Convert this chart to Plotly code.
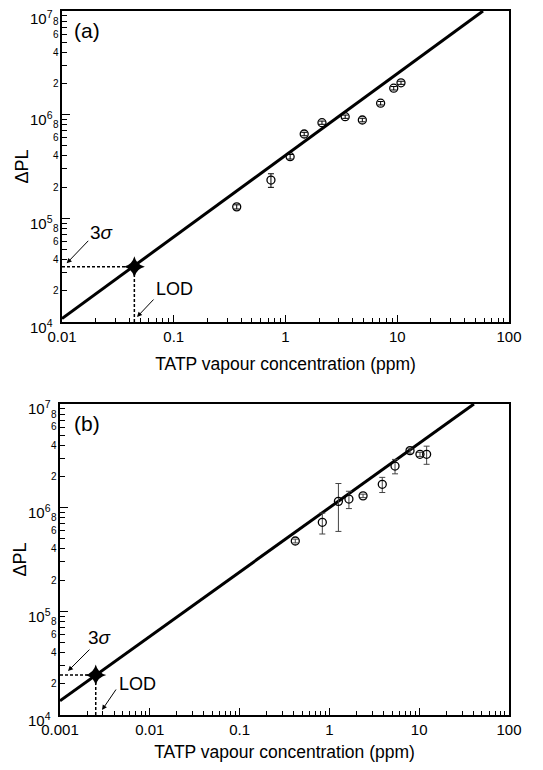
import math
import plotly.graph_objects as go

# ---------------- data ----------------
conc_a = [0.366, 0.741, 1.10, 1.47, 2.12, 3.42, 4.87, 7.1, 9.3, 10.8]
pl_a = [1.29e5, 2.34e5, 3.93e5, 6.51e5, 8.37e5, 9.56e5, 8.88e5, 1.29e6, 1.80e6, 2.03e6]
err_a = [0.06e5, 0.35e5, 0.2e5, 0.25e5, 0.3e5, 0.35e5, 0.35e5, 0.5e5, 0.7e5, 0.7e5]

conc_b = [0.417, 0.834, 1.26, 1.65, 2.37, 3.88, 5.38, 7.9, 10.2, 12.1]
pl_b = [4.77e5, 7.22e5, 1.15e6, 1.21e6, 1.30e6, 1.68e6, 2.52e6, 3.55e6, 3.27e6, 3.27e6]
err_b = [0.2e5, 1.65e5, 0.56e6, 0.23e6, 0.05e6, 0.28e6, 0.4e6, 0.2e6, 0.15e6, 0.65e6]

fit_x_a = [0.01, 58.5]
fit_y_a = [1.08e4, 1.0e7]
fit_x_b = [0.001, 40.7]
fit_y_b = [1.37e4, 1.0e7]

lod_a = (0.0444, 3.42e4)
lod_b = (0.0025, 2.43e4)

xr_a = (0.01, 100)
xr_b = (0.001, 100)
yr = (1e4, 1e7)

xtick_a = [0.01, 0.1, 1, 10, 100]
xtext_a = ["0.01", "0.1", "1", "10", "100"]
xtick_b = [0.001, 0.01, 0.1, 1, 10, 100]
xtext_b = ["0.001", "0.01", "0.1", "1", "10", "100"]
ydecades = [4, 5, 6, 7]
ysmall_labels = [2, 4, 6, 8]

OFF = 8               # page body margin
W, H = 543 - 2 * OFF, 770 - 2 * OFF
FONT = "Liberation Sans, Arial, sans-serif"

fig = go.Figure()

def add_panel(xs, ys, es, fx, fy, lod, xa, ya, ecol):
    fig.add_trace(go.Scatter(x=fx, y=fy, mode="lines", line=dict(color="black", width=3),
                             xaxis=xa, yaxis=ya, showlegend=False, hoverinfo="skip"))
    fig.add_trace(go.Scatter(x=xs, y=ys, mode="markers",
                             marker=dict(symbol="circle-open", size=8, color="black",
                                         line=dict(width=1.3, color="black")),
                             error_y=dict(type="data", array=es, color=ecol, thickness=1, width=3),
                             xaxis=xa, yaxis=ya, showlegend=False))
    fig.add_trace(go.Scatter(x=[lod[0]], y=[lod[1]], mode="markers",
                             marker=dict(symbol="star-diamond", size=15, color="black",
                                         line=dict(width=0)),
                             xaxis=xa, yaxis=ya, showlegend=False))

add_panel(conc_a, pl_a, err_a, fit_x_a, fit_y_a, lod_a, "x", "y", "black")
add_panel(conc_b, pl_b, err_b, fit_x_b, fit_y_b, lod_b, "x2", "y2", "#444")

for lod, xr, xref, yref in [(lod_a, xr_a, "x", "y"), (lod_b, xr_b, "x2", "y2")]:
    fig.add_shape(type="line", xref=xref, yref=yref, x0=xr[0], x1=lod[0], y0=lod[1], y1=lod[1],
                  line=dict(color="black", width=1.5, dash="3px,2px"))
    fig.add_shape(type="line", xref=xref, yref=yref, x0=lod[0], x1=lod[0], y0=yr[0], y1=lod[1],
                  line=dict(color="black", width=1.5, dash="3px,2px"))

def hx(px):
    return (px - OFF) / W

def vy(py):
    return 1 - (py - OFF) / H

xdom_a = [hx(62), hx(509)]
ydom_a = [vy(322), vy(11)]
xdom_b = [hx(60), hx(509)]
ydom_b = [vy(715), vy(404)]

def minor_vals(lo, hi):
    out = []
    for n in range(int(round(math.log10(lo))), int(round(math.log10(hi)))):
        for m in range(2, 10):
            out.append(m * 10 ** n)
    return out

def xaxis_cfg(dom, xr, tv, tt, anchor, standoff):
    return dict(type="log", domain=dom, range=[math.log10(xr[0]), math.log10(xr[1])],
                automargin=False, ticklabeloverflow="allow",
                tickvals=tv, ticktext=tt, ticks="inside", ticklen=7, tickwidth=1.3,
                tickcolor="black", showline=True, linecolor="black", linewidth=2,
                mirror=True, showgrid=False, zeroline=False, anchor=anchor,
                minor=dict(tickvals=minor_vals(*xr), ticks="inside", ticklen=4,
                           tickwidth=1.2, tickcolor="black", showgrid=False),
                tickfont=dict(size=15, family=FONT, color="black"),
                title=dict(text="TATP vapour concentration (ppm)",
                           font=dict(size=17.5, family=FONT, color="black"), standoff=standoff))

def yaxis_cfg(dom, anchor):
    return dict(type="log", domain=dom, range=[math.log10(yr[0]), math.log10(yr[1])],
                automargin=False, showticklabels=False,
                tickvals=[10 ** d for d in ydecades],
                ticks="inside", ticklen=8, tickwidth=1.3, tickcolor="black",
                showline=True, linecolor="black", linewidth=2, mirror=True,
                showgrid=False, zeroline=False, anchor=anchor,
                minor=dict(tickvals=minor_vals(*yr), ticks="inside", ticklen=5,
                           tickwidth=1.2, tickcolor="black", showgrid=False),
                title=dict(text="ΔPL", font=dict(size=18, family=FONT, color="black"),
                           standoff=27))

fig.update_layout(
    width=W, height=H, margin=dict(l=0, r=0, t=0, b=0, autoexpand=False),
    paper_bgcolor="white", plot_bgcolor="white",
    xaxis=xaxis_cfg(xdom_a, xr_a, xtick_a, xtext_a, "y", 14),
    yaxis=yaxis_cfg(ydom_a, "x"),
    xaxis2=xaxis_cfg(xdom_b, xr_b, xtick_b, xtext_b, "y2", 17),
    yaxis2=yaxis_cfg(ydom_b, "x2"),
    font=dict(family=FONT, color="black"),
)

ann = []
for xdom, yref in [(xdom_a, "y"), (xdom_b, "y2")]:
    for d in ydecades:
        top_fix = -2 if (d == ydecades[-1] and yref == "y") else 0
        ann.append(dict(x=xdom[0], xref="paper", y=d, yref=yref,
                        text="10<sup>%d</sup>" % d, showarrow=False, xanchor="right",
                        yanchor="middle", xshift=-7, yshift=-4 + top_fix,
                        font=dict(size=15, family=FONT, color="black")))
    for d in ydecades[:-1]:
        for m in ysmall_labels:
            ann.append(dict(x=xdom[0], xref="paper", y=math.log10(m * 10 ** d), yref=yref,
                            text=str(m), showarrow=False, xanchor="right", yanchor="middle",
                            xshift=-1, font=dict(size=10, family=FONT, color="black")))

ann.append(dict(x=xdom_a[0], xref="paper", y=ydom_a[1], yref="paper", text="(a)",
                showarrow=False, xanchor="left", yanchor="top", xshift=10, yshift=-6,
                font=dict(size=21, family=FONT, color="black")))
ann.append(dict(x=xdom_b[0], xref="paper", y=ydom_b[1], yref="paper", text="(b)",
                showarrow=False, xanchor="left", yanchor="top", xshift=12, yshift=-6,
                font=dict(size=21, family=FONT, color="black")))

arrow = dict(showarrow=True, arrowhead=2, arrowsize=1, arrowwidth=1, arrowcolor="black", text="")
ann.append(dict(x=-1.642, y=4.868, xref="x", yref="y", text="3<i>σ</i>", showarrow=False,
                font=dict(size=19, family=FONT, color="black")))
ann.append(dict(x=-1.958, y=4.566, xref="x", yref="y", ax=23, ay=-24, **arrow))
ann.append(dict(x=-0.989, y=4.318, xref="x", yref="y", text="LOD", showarrow=False,
                font=dict(size=18, family=FONT, color="black")))
ann.append(dict(x=-1.329, y=4.048, xref="x", yref="y", ax=18, ay=-19, **arrow))
ann.append(dict(x=-2.555, y=4.752, xref="x2", yref="y2", text="3<i>σ</i>", showarrow=False,
                font=dict(size=19, family=FONT, color="black")))
ann.append(dict(x=-2.911, y=4.424, xref="x2", yref="y2", ax=23, ay=-23, **arrow))
ann.append(dict(x=-2.137, y=4.299, xref="x2", yref="y2", text="LOD", showarrow=False,
                font=dict(size=18, family=FONT, color="black")))
ann.append(dict(x=-2.532, y=4.048, xref="x2", yref="y2", ax=15, ay=-22, **arrow))

fig.update_layout(annotations=ann)
fig.write_html("out.html")
